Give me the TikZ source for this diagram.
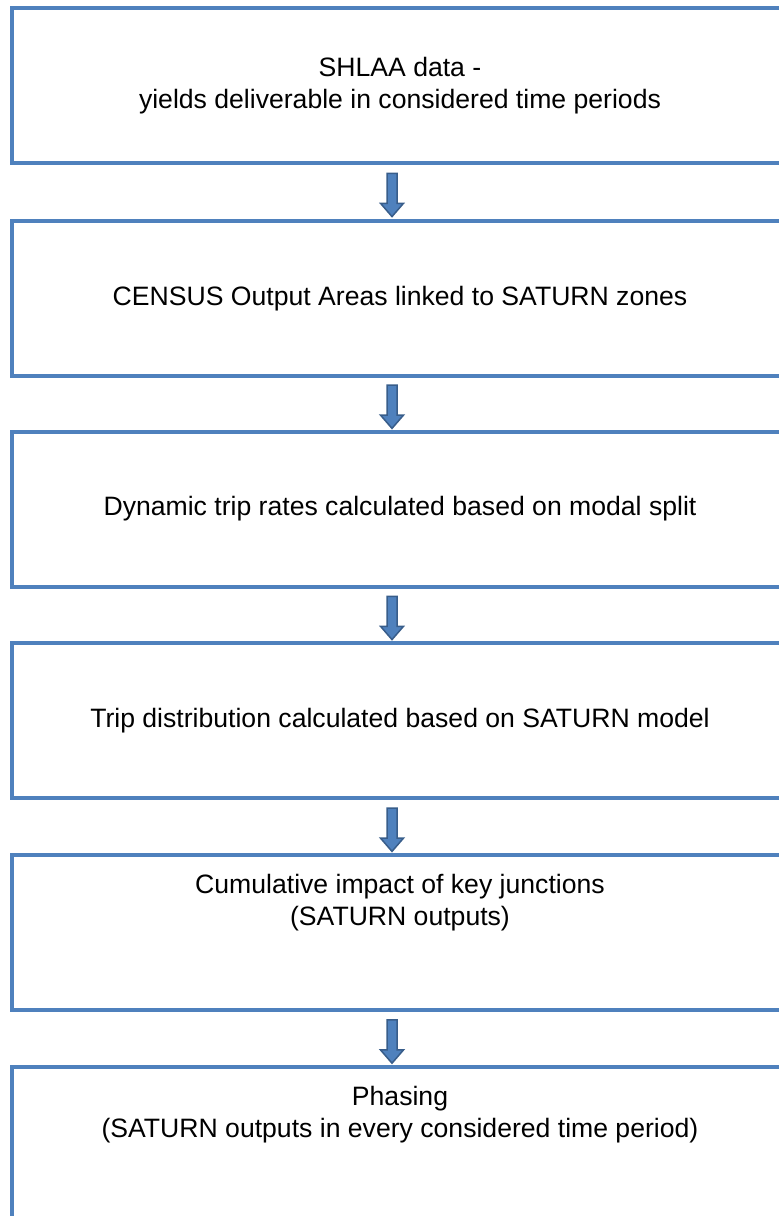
\documentclass[tikz,border=0pt]{standalone}
\usepackage{fontspec}
\setmainfont{Liberation Sans}
\usetikzlibrary{calc}
\definecolor{boxblue}{HTML}{4F81BD}
\definecolor{arrowedge}{HTML}{385D8A}
\begin{document}
\begin{tikzpicture}[x=1pt,y=-1pt,
  stagebox/.style={draw=boxblue, line width=4pt, rectangle, minimum width=776pt, minimum height=155pt,
    align=center, font=\fontsize{26.6}{32}\selectfont, inner sep=0pt},
  stagetext/.style={align=center, font=\fontsize{26.6}{32}\selectfont, inner sep=0pt},
  flowarrow/.style={fill=boxblue, draw=arrowedge, line width=1.5pt, line join=miter}]
\useasboundingbox (0,0) rectangle (779,1216);
\clip (0,0) rectangle (779,1216);
\node[stagebox] (b1) at (400,85.5) {SHLAA data -\\yields deliverable in considered time periods};
\node[stagebox] (b2) at (400,298.5) {CENSUS Output Areas linked to SATURN zones};
\node[stagebox] (b3) at (400,509.1) {Dynamic trip rates calculated based on modal split};
\node[stagebox] (b4) at (400,720.9) {Trip distribution calculated based on SATURN model};
\node[stagebox] (b5) at (400,932.7) {};
\node[stagebox] (b6) at (400,1144.5) {};
\node[stagetext] (t5) at ($(b5.center)+(0,-30)$) {Cumulative impact of key junctions\\(SATURN outputs)};
\node[stagetext] (t6) at ($(b6.center)+(0,-29.5)$) {Phasing\\(SATURN outputs in every considered time period)};
\foreach \a/\b in {b1/b2,b2/b3,b3/b4,b4/b5,b5/b6}{
  \coordinate (m\a) at ($(\a.south)!0.5!(\b.north)+(-8,3)$);
  \draw[flowarrow] ([shift={(-5,-21.7)}]m\a) -- ([shift={(5,-21.7)}]m\a) -- ([shift={(5,8.3)}]m\a)
    -- ([shift={(11.5,8.3)}]m\a) -- ([shift={(0,21.6)}]m\a) -- ([shift={(-11.5,8.3)}]m\a)
    -- ([shift={(-5,8.3)}]m\a) -- cycle;
}
\end{tikzpicture}
\end{document}
